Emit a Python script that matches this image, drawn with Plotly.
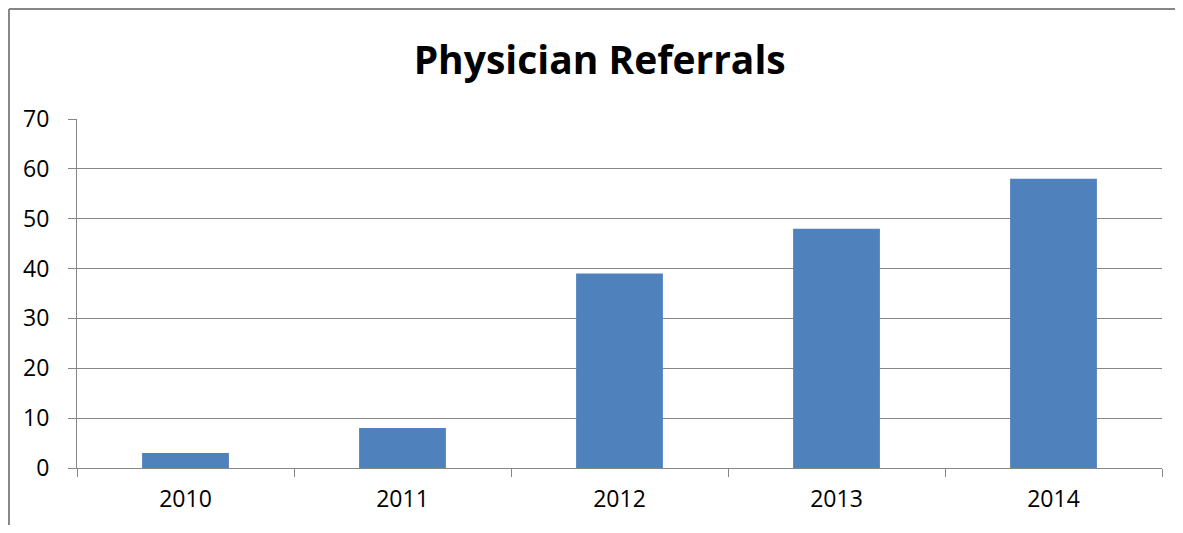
import plotly.graph_objects as go

years = ["2010", "2011", "2012", "2013", "2014"]
referrals = [3, 8, 39, 48, 58]

grey = "#868686"

fig = go.Figure(
    go.Bar(x=years, y=referrals, marker=dict(color="#4F81BD", line=dict(width=0)))
)

# page body has an 8px margin all round, so the figure is sized to fit the window
fig.update_layout(
    width=1167,
    height=517,
    margin=dict(l=69, r=13, t=111, b=57),
    paper_bgcolor="white",
    plot_bgcolor="white",
    bargap=0.6,
    showlegend=False,
    title=dict(
        text="<b>Physician Referrals</b>",
        x=0.507,
        xanchor="center",
        y=0.899,
        yanchor="middle",
        font=dict(family="Open Sans", size=39, color="black"),
    ),
    font=dict(family="Open Sans", size=23, color="black"),
)

fig.update_xaxes(
    type="category",
    showline=True,
    linecolor=grey,
    linewidth=1,
    ticks="outside",
    tickson="boundaries",
    ticklen=8,
    tickcolor=grey,
    ticklabelstandoff=10,
    showgrid=False,
)
fig.update_yaxes(
    range=[0, 70],
    dtick=10,
    showline=True,
    linecolor=grey,
    linewidth=1,
    ticks="outside",
    ticklen=8,
    tickcolor=grey,
    ticklabelstandoff=14,
    showgrid=True,
    gridcolor=grey,
    gridwidth=1,
    zeroline=False,
)

# chart frame: only left and top edges are visible in the original
frame = dict(type="line", xref="paper", yref="paper", line=dict(color=grey, width=2), layer="below")
fig.add_shape(x0=-0.0627, x1=-0.0627, y0=-0.4, y1=1.315, **frame)
fig.add_shape(x0=-0.0627, x1=1.2, y0=1.315, y1=1.315, **frame)

fig.write_html("out.html")
